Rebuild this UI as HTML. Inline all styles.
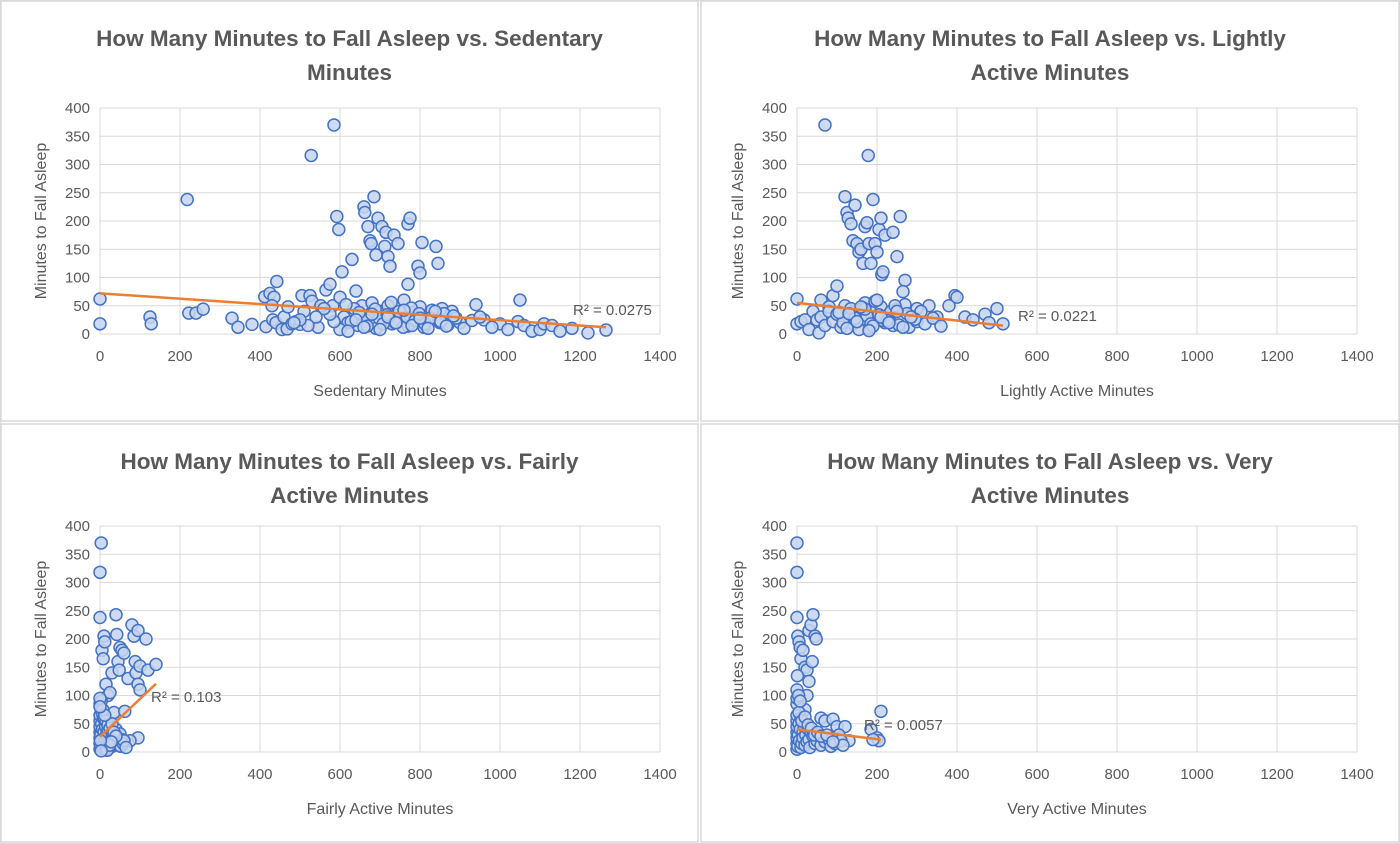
<!DOCTYPE html>
<html><head><meta charset="utf-8">
<style>
html,body{margin:0;padding:0;background:#fff;}
svg{display:block;font-family:"Liberation Sans",sans-serif;}
</style></head>
<body>
<svg id="root" width="1400" height="844" viewBox="0 0 1400 844" xmlns="http://www.w3.org/2000/svg"></svg>
<script>
// ---- shared axis data ----
const xTicks = [0,200,400,600,800,1000,1200,1400];
const yTicks = [0,50,100,150,200,250,300,350,400];

// ---- chart 1: sedentary ----
const sedX = [0,0,125,128,218,222,240,258,330,345,380,415,412,425,432,440,435,430,442,455,468,460,470,480,490,500,505,510,525,528,530,545,552,565,575,582,585,592,597,605,600,630,640,655,660,662,670,675,678,685,690,695,705,712,715,720,725,735,745,770,775,770,795,800,805,840,845,855,880,900,940,1050,1045,1060,1080,1100,1110,1130,1150,1180,1220,1265,1000,1020,960,980,
 610,620,635,645,650,665,680,690,700,710,720,730,740,750,760,770,780,790,800,810,820,830,850,860,870,890,910,930,950,600,615,628,648,668,688,698,708,718,728,738,748,758,768,778,788,798,812,826,838,852,866,884,620,640,660,680,700,720,740,760,780,800,820,585,575,560,540,520,500,485];
const sedY = [62,18,30,18,238,37,37,44,28,12,17,13,66,72,25,20,65,50,93,8,9,30,48,18,22,17,68,40,68,316,58,12,50,78,88,50,370,208,185,110,65,132,76,50,225,215,190,165,160,243,140,205,190,155,180,137,120,175,160,195,205,88,120,108,162,155,125,45,40,20,52,60,22,15,5,8,18,15,5,10,2,7,18,8,25,12,
 30,20,45,15,35,25,55,10,40,28,50,18,33,22,60,14,38,26,48,12,30,42,20,36,16,28,10,24,30,8,52,22,38,14,44,28,18,34,56,20,40,12,30,46,24,36,18,28,40,22,14,32,5,25,12,35,8,30,20,42,15,28,10,22,35,45,30,15,25,20,35];
const sedTrend = [72,-0.0475];
// ---- chart 2: lightly ----
const litX = [0,0,10,20,30,40,50,55,60,70,80,90,100,120,125,128,135,140,145,150,155,160,165,170,175,178,180,185,190,195,200,205,210,212,215,220,240,250,258,270,265,300,330,350,380,395,400,420,440,470,480,500,515,
 60,70,80,90,100,110,120,130,140,150,160,170,180,190,200,210,220,230,240,250,260,270,280,290,300,310,320,340,360,115,135,155,175,195,215,235,255,275,295,105,125,145,165,185,205,225,245,265,285,130,150,170,190,210,230,250,200,180,160];
const litY = [62,18,22,25,8,40,25,2,60,370,48,68,85,243,215,205,195,165,228,160,145,150,125,190,197,316,160,125,238,160,145,185,205,105,110,175,180,137,208,95,75,45,50,30,50,68,65,30,25,35,20,45,18,
 30,15,40,22,35,12,50,28,18,42,25,55,10,38,30,48,20,35,15,44,26,52,12,30,22,40,18,28,14,20,45,8,32,58,24,40,16,36,26,38,10,28,46,18,34,24,50,12,30,36,22,44,14,30,20,40,60,6,48];
const litTrend = [55,-0.078];
// ---- chart 3: fairly ----
const fairX = [0,0,3,5,8,10,12,15,20,25,30,35,40,42,45,48,50,55,60,62,70,80,85,88,90,95,95,100,100,115,120,140,95,75,
 0,0,0,0,0,0,0,0,2,2,4,5,6,8,8,10,10,12,14,15,16,18,20,20,22,25,25,28,30,30,32,35,38,40,42,45,48,50,52,55,58,60,65,5,10,15,20,25,30,35,40,3,7,12,18,24,28,0,0,1,3];
const fairY = [238,318,370,180,165,205,195,120,100,105,140,70,243,208,160,145,185,180,175,72,130,225,205,160,140,215,120,110,152,200,145,155,25,20,
 5,15,25,35,45,55,65,85,10,30,50,20,40,8,60,15,35,25,45,5,30,18,40,12,28,8,50,22,35,10,18,30,15,40,25,12,20,32,10,22,15,20,8,70,60,55,48,42,50,35,28,90,75,65,3,12,18,95,80,20,2];
const fairTrend = [27,0.67];
// ---- chart 4: very ----
const veryX = [0,0,0,2,5,8,10,15,20,25,30,35,38,40,45,48,30,25,20,60,70,90,100,120,130,185,200,205,210,190,
 0,0,0,0,0,0,0,0,0,2,3,5,6,8,10,10,12,15,15,18,20,22,25,28,30,32,35,40,45,50,55,60,65,70,80,85,95,105,110,115,5,12,20,28,36,44,52,60,0,1,4,8,75,90];
const veryY = [370,318,238,205,195,185,165,180,150,145,215,225,160,243,205,200,125,100,75,60,55,58,45,45,20,40,25,20,72,22,
 5,15,25,35,45,55,65,85,95,10,30,50,20,40,8,60,15,35,25,45,12,30,18,40,22,8,35,28,15,20,30,12,25,18,22,10,15,30,20,12,70,55,62,48,42,30,35,28,110,135,100,90,30,18];
const veryTrend = [40,-0.086];

const NS = "http://www.w3.org/2000/svg";
const root = document.getElementById('root');
function mk(tag, attrs, parent){ const e=document.createElementNS(NS,tag); for(const k in attrs) e.setAttribute(k,attrs[k]); (parent||root).appendChild(e); return e; }

const bg = mk('rect',{x:0.5,y:0.5,width:1399,height:843,fill:'#fff',stroke:'#d9d9d9'});



function chart(cfg){
  const g = mk('g',{});
  
  
  const frame = mk('rect',{x:cfg.px,y:cfg.py,width:cfg.pw,height:cfg.ph,fill:'#fff',stroke:'#d9d9d9','stroke-width':1.5},g);
  
  
  const x0=cfg.x0, x1=cfg.x0+560, yb=cfg.yb, yt=cfg.yb-226;
  const sx=v=>x0+(v/1400)*(x1-x0);
  const sy=v=>yb-(v/400)*(yb-yt);
  // title
  const t = mk('text',{x:cfg.px+cfg.pw/2,y:cfg.py+45,'text-anchor':'middle','font-size':22.5,'font-weight':'bold',fill:'#595959'},g);
  
  
  const t1=mk('tspan',{x:cfg.px+cfg.pw/2},t); t1.textContent=cfg.title[0];
  const t2=mk('tspan',{x:cfg.px+cfg.pw/2,dy:34},t); t2.textContent=cfg.title[1];
  // grid
  yTicks.forEach(v=>{
    const l=mk('line',{x1:x0,x2:x1,y1:sy(v),y2:sy(v),stroke:'#d9d9d9','stroke-width':1},g);
    
    
    const tx=mk('text',{x:x0-10,y:sy(v)+5,'text-anchor':'end','font-size':15,fill:'#595959'},g);
    
    
    tx.textContent=v;
  });
  xTicks.forEach(v=>{
    const l=mk('line',{x1:sx(v),x2:sx(v),y1:yt,y2:yb,stroke:'#d9d9d9','stroke-width':1},g);
    
    
    const tx=mk('text',{x:sx(v),y:yb+27,'text-anchor':'middle','font-size':15,fill:'#595959'},g);
    
    
    tx.textContent=v;
  });
  const yt2=mk('text',{x:0,y:0,'text-anchor':'middle','font-size':16,fill:'#595959',transform:`translate(${x0-54},${(yt+yb)/2}) rotate(-90)`},g);
  
  
  yt2.textContent='Minutes to Fall Asleep';
  const xt=mk('text',{x:(x0+x1)/2,y:yb+62,'text-anchor':'middle','font-size':16,fill:'#595959'},g);
  
  
  xt.textContent=cfg.xTitle;
  // points
  cfg.xs.forEach((xv,i)=>{
    const c=mk('circle',{cx:sx(xv),cy:sy(cfg.ys[i]),r:6,fill:'rgba(196,212,238,0.85)',stroke:'#4472c4','stroke-width':1.5},g);
    
    
  });
  // trendline
  const xmax=Math.max(...cfg.xs);
  const tl=mk('line',{x1:sx(0),y1:sy(cfg.trend[0]),x2:sx(xmax),y2:sy(cfg.trend[0]+cfg.trend[1]*xmax),stroke:'#ed7d31','stroke-width':2.5},g);
  
  
  const r=mk('text',{x:cfg.r2pos[0],y:cfg.r2pos[1],'font-size':15,fill:'#595959'},g);
  
  
  r.textContent=cfg.r2;
}

chart({name:'sedentary-chart',px:1,py:1,pw:697,ph:420,x0:100,yb:334,title:['How Many Minutes to Fall Asleep vs. Sedentary','Minutes'],xTitle:'Sedentary Minutes',xs:sedX,ys:sedY,trend:sedTrend,r2:'R² = 0.0275',r2pos:[573,315]});
chart({name:'lightly-active-chart',px:701,py:1,pw:698,ph:420,x0:797,yb:334,title:['How Many Minutes to Fall Asleep vs. Lightly','Active Minutes'],xTitle:'Lightly Active Minutes',xs:litX,ys:litY,trend:litTrend,r2:'R² = 0.0221',r2pos:[1018,321]});
chart({name:'fairly-active-chart',px:1,py:424,pw:697,ph:418,x0:100,yb:752,title:['How Many Minutes to Fall Asleep vs. Fairly','Active Minutes'],xTitle:'Fairly Active Minutes',xs:fairX,ys:fairY,trend:fairTrend,r2:'R² = 0.103',r2pos:[151,702]});
chart({name:'very-active-chart',px:701,py:424,pw:698,ph:418,x0:797,yb:752,title:['How Many Minutes to Fall Asleep vs. Very','Active Minutes'],xTitle:'Very Active Minutes',xs:veryX,ys:veryY,trend:veryTrend,r2:'R² = 0.0057',r2pos:[864,730]});
</script>
</body></html>
